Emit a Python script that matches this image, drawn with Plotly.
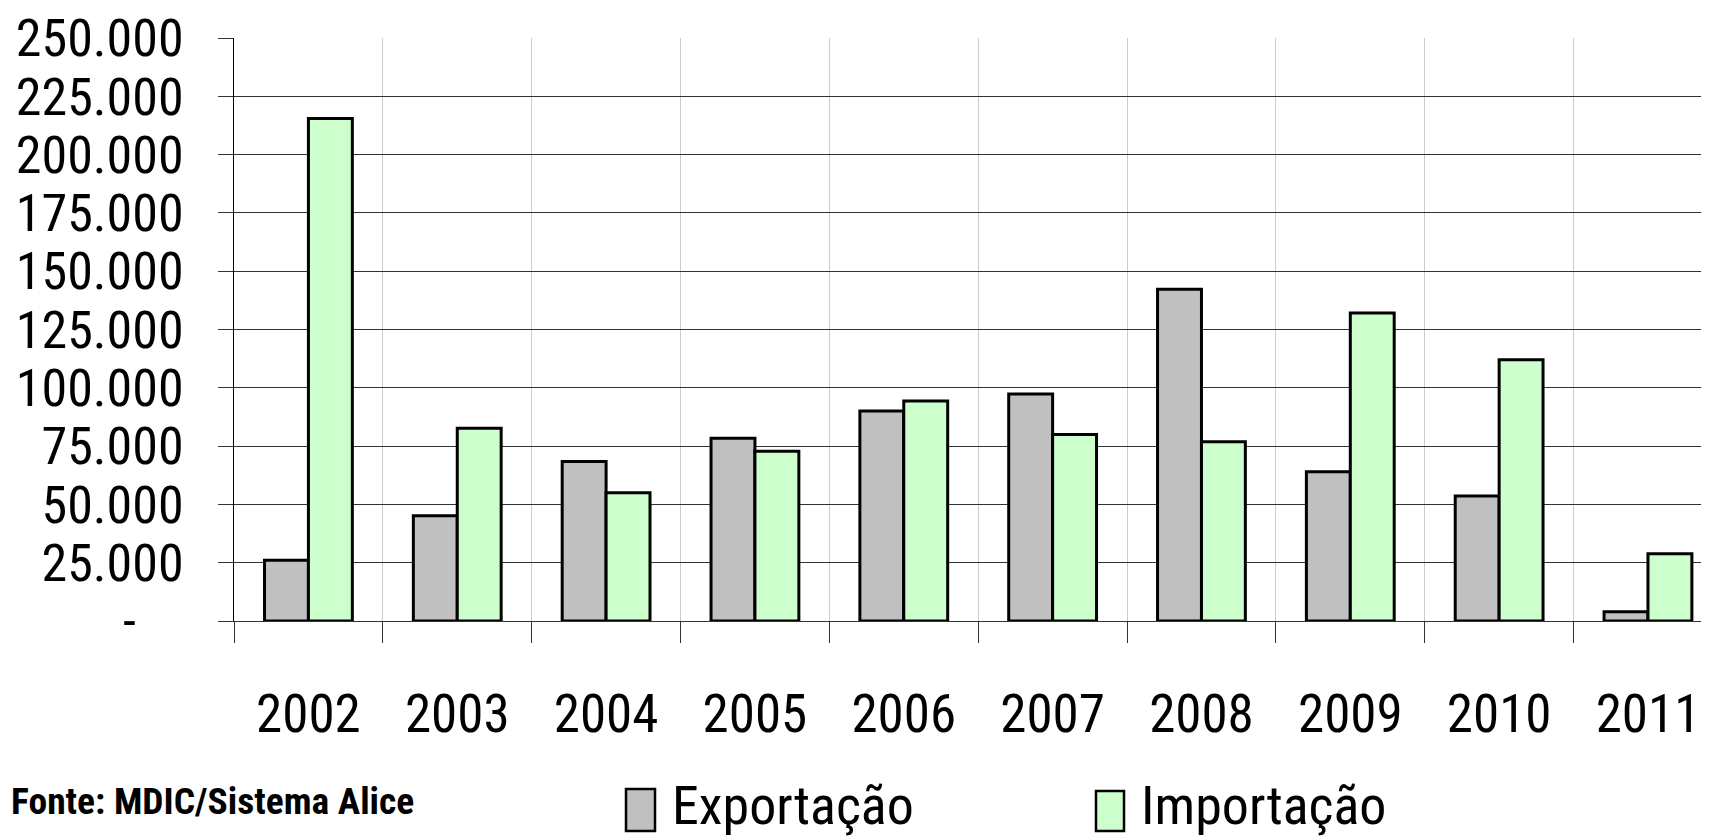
import plotly.graph_objects as go

years = ["2002", "2003", "2004", "2005", "2006", "2007", "2008", "2009", "2010", "2011"]
exportacao = [26000, 45100, 68400, 78400, 90000, 97300, 142300, 64000, 53600, 4000]
importacao = [215500, 82700, 55000, 72800, 94300, 80000, 76900, 132100, 112000, 28800]

y_tickvals = [0, 25000, 50000, 75000, 100000, 125000, 150000, 175000, 200000, 225000, 250000]
y_ticktext = ["-\u00a0\u00a0\u00a0\u00a0", "25.000", "50.000", "75.000", "100.000", "125.000",
              "150.000", "175.000", "200.000", "225.000", "250.000"]

FONT = "Roboto Condensed, Liberation Sans Narrow, Arial Narrow, sans-serif"

fig = go.Figure()
fig.add_trace(go.Bar(x=years, y=exportacao, name="Exportação",
                     marker=dict(color="#C0C0C0", line=dict(color="black", width=3))))
fig.add_trace(go.Bar(x=years, y=importacao, name="Importação",
                     marker=dict(color="#CCFFCC", line=dict(color="black", width=3))))

# page has an 8px body margin: figure spans page pixels 8..1709 / 8..836
fig.update_layout(
    width=1701, height=828,
    margin=dict(l=226, r=0, t=30, b=215, autoexpand=False),
    paper_bgcolor="white", plot_bgcolor="white",
    barmode="group", bargap=0.41, bargroupgap=0,
    showlegend=False,
    font=dict(family=FONT, color="black"),
)
fig.update_xaxes(
    type="category", range=[-0.5, 9.41],
    tickson="boundaries", ticks="outside", ticklen=21, tickcolor="#333333", tickwidth=1,
    showgrid=True, gridcolor="#cccccc", gridwidth=1,
    showline=True, linecolor="#333333", linewidth=1,
    tickfont=dict(family=FONT, size=53, color="black"),
    ticklabelstandoff=46,
)
fig.update_yaxes(
    range=[0, 250000], tickmode="array", tickvals=y_tickvals, ticktext=y_ticktext,
    ticks="outside", ticklen=15, tickcolor="#333333", tickwidth=1,
    showgrid=True, gridcolor="#333333", gridwidth=1, zeroline=False,
    showline=True, linecolor="black", linewidth=1,
    tickfont=dict(family=FONT, size=52, color="black"),
    ticklabelstandoff=24,
)

def px(x):
    return (x - 234) / 1475.0

def py(y):
    return (621 - y) / 583.0

fig.add_shape(type="rect", xref="paper", yref="paper",
              x0=px(626), x1=px(655), y0=py(831), y1=py(789),
              fillcolor="#C0C0C0", line=dict(color="black", width=2.5))
fig.add_shape(type="rect", xref="paper", yref="paper",
              x0=px(1096), x1=px(1124), y0=py(831), y1=py(791),
              fillcolor="#CCFFCC", line=dict(color="black", width=2.5))
fig.add_annotation(text="Exportação", xref="paper", yref="paper", x=px(670), y=py(806),
                   xanchor="left", yanchor="middle", showarrow=False,
                   font=dict(family=FONT, size=54, color="black"))
fig.add_annotation(text="Importação", xref="paper", yref="paper", x=px(1139), y=py(806),
                   xanchor="left", yanchor="middle", showarrow=False,
                   font=dict(family=FONT, size=54, color="black"))
fig.add_annotation(text="<b>Fonte: MDIC/Sistema Alice</b>", xref="paper", yref="paper",
                   x=px(9), y=py(801), xanchor="left", yanchor="middle", showarrow=False,
                   font=dict(family=FONT, size=37.5, color="black"))

fig.write_html("out.html")
